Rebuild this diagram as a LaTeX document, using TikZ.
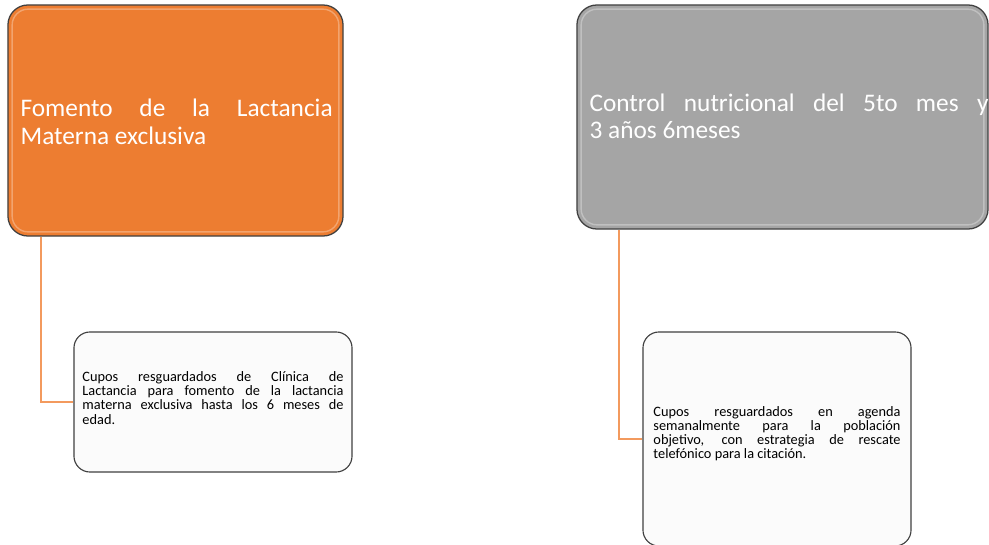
\documentclass[tikz,border=0pt]{standalone}
\usepackage{fontspec}
\setmainfont{Carlito}
\usetikzlibrary{positioning}

\definecolor{lactorange}{HTML}{ED7D31}
\definecolor{ctrlgray}{HTML}{A5A5A5}
\definecolor{boxedge}{HTML}{404040}
\definecolor{linkorange}{HTML}{F39A5E}
\definecolor{notefill}{HTML}{FBFBFB}

\tikzset{
  headbox/.style={draw=boxedge, line width=0.9pt, rounded corners=0.5cm, inner sep=0pt},
  headtext/.style={text=white, align=justify, inner sep=0pt, font=\fontsize{18}{19.5}\selectfont},
  notebox/.style={draw=boxedge, line width=0.8pt, fill=notefill, rounded corners=0.4cm, inner sep=0pt},
  notetext/.style={align=justify, inner sep=0pt, font=\fontsize{10.2}{10}\selectfont},
  gloss/.style={draw=white, opacity=0.3, line width=1pt, rounded corners=0.4cm},
  link/.style={draw=linkorange, line width=1.3pt}
}

\begin{document}
\begin{tikzpicture}[x=0.025cm, y=-0.025cm]
\useasboundingbox (0,0) rectangle (989,545);

\node[headbox, fill=lactorange, minimum width=8.375cm, minimum height=5.775cm] (lact) at (175.5,120.5) {};
\draw[gloss] ([xshift=0.12cm, yshift=-0.12cm]lact.north west) rectangle ([xshift=-0.12cm, yshift=0.12cm]lact.south east);
\node[headtext, text width=7.8cm, anchor=west] (lacttext) at ([xshift=0.325cm, yshift=-0.03cm]lact.west) {Fomento de la Lactancia\linebreak Materna exclusiva};

\node[headbox, fill=ctrlgray, minimum width=10.275cm, minimum height=5.6cm] (ctrl) at (782.5,117) {};
\draw[gloss] ([xshift=0.12cm, yshift=-0.12cm]ctrl.north west) rectangle ([xshift=-0.12cm, yshift=0.12cm]ctrl.south east);
\node[headtext, text width=9.975cm, anchor=west] (ctrltext) at ([xshift=0.325cm, yshift=0.02cm]ctrl.west) {Control nutricional del 5to mes y\linebreak 3 años 6meses};

\node[notebox, minimum width=6.95cm, minimum height=3.5cm] (cupos) at (213,402) {};
\node[notetext, text width=6.525cm] (cupostext) at ([yshift=0.1cm]cupos.center) {Cupos resguardados de Clínica de\linebreak Lactancia para fomento de la lactancia\linebreak materna exclusiva hasta los 6 meses de\linebreak edad.};

\node[notebox, minimum width=6.7cm, minimum height=5.35cm] (agenda) at (777,439) {};
\node[notetext, text width=6.175cm] (agendatext) at ([yshift=0.14cm]agenda.center) {Cupos resguardados en agenda\linebreak semanalmente para la población\linebreak objetivo, con estrategia de rescate\linebreak telefónico para la citación.};

\draw[link] ([xshift=0.85cm]lact.south west) |- (cupos.west);
\draw[link] ([xshift=1.075cm]ctrl.south west) |- (agenda.west);
\end{tikzpicture}
\end{document}
